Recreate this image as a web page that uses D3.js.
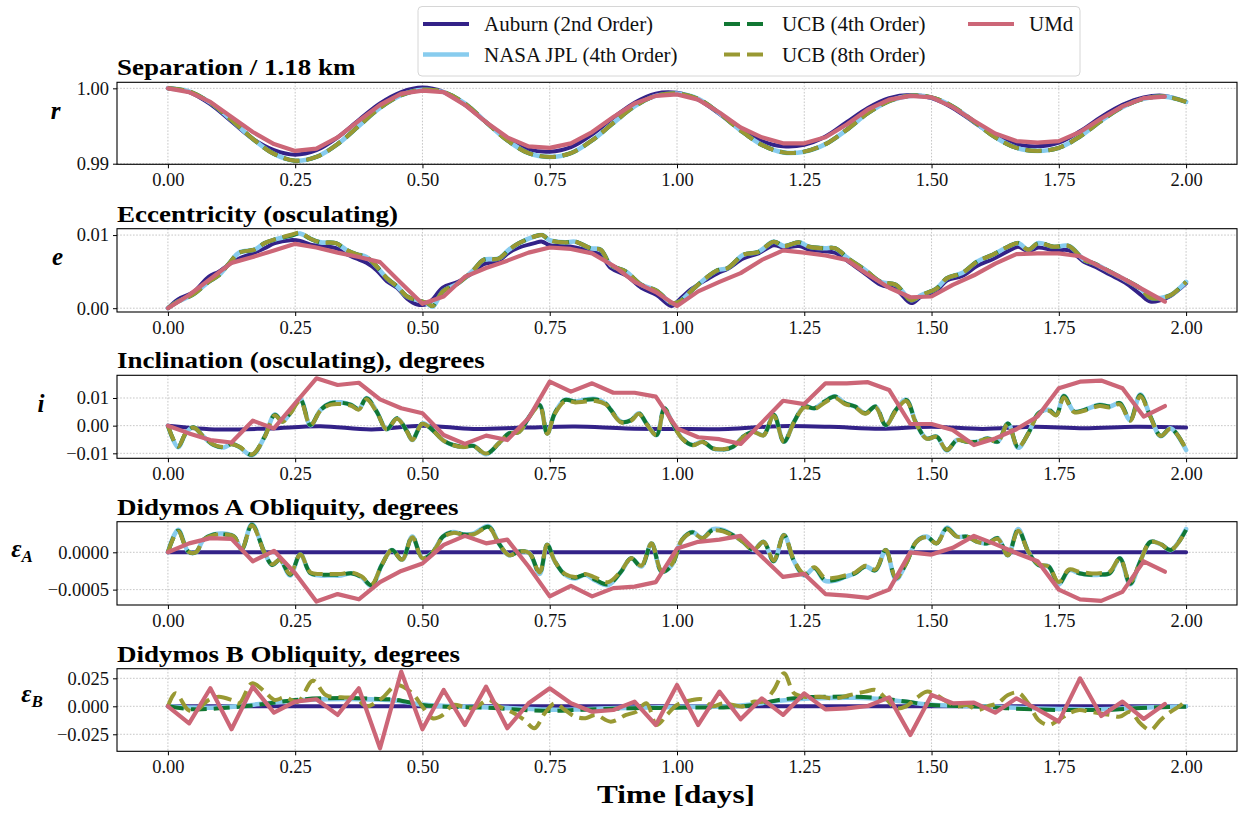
<!DOCTYPE html>
<html>
<head>
<meta charset="utf-8">
<script src="https://cdn.jsdelivr.net/npm/d3@7"></script>
<style>
  html, body { margin: 0; padding: 0; background: #ffffff; }
  svg text { font-family: "Liberation Serif", "Times New Roman", serif; }
</style>
</head>
<body>
<svg id="chart" width="1240" height="814"></svg>
<script>
// ---------------------------------------------------------------------------
// Data: time in days. UMd is sampled hourly (hour index), the others finer.
// ---------------------------------------------------------------------------
const xTickValues = [0, 0.25, 0.5, 0.75, 1.0, 1.25, 1.5, 1.75, 2.0];

// hourly sample index used by the separation curves (0..48 h) and UMd (0..47 h)
const hours49 = [0,1,2,3,4,5,6,7,8,9,10,11,12,13,14,15,16,17,18,19,20,21,22,23,24,
  25,26,27,28,29,30,31,32,33,34,35,36,37,38,39,40,41,42,43,44,45,46,47,48];
const umdHours = [0,1,2,3,4,5,6,7,8,9,10,11,12,13,14,15,16,17,18,19,20,21,22,23,
  24,25,26,27,28,29,30,31,32,33,34,35,36,37,38,39,40,41,42,43,44,45,46,47];

// --- Separation r (normalised by 1.18 km) ---
const sepAuburn = [1.0000,0.9995,0.9979,0.9956,0.9933,0.9918,0.9912,0.9918,0.9935,0.9958,
  0.9980,0.9995,1.0001,0.9995,0.9978,0.9955,0.9933,0.9919,0.9916,0.9922,
  0.9939,0.9961,0.9981,0.9993,0.9994,0.9985,0.9966,0.9945,0.9930,0.9923,
  0.9925,0.9936,0.9955,0.9974,0.9987,0.9991,0.9987,0.9974,0.9955,0.9937,
  0.9926,0.9923,0.9928,0.9943,0.9962,0.9978,0.9988,0.9990,0.9982];
const sepJPL = [1.0000,0.9996,0.9981,0.9958,0.9933,0.9913,0.9904,0.9909,0.9926,0.9950,
  0.9974,0.9991,0.9998,0.9995,0.9980,0.9955,0.9931,0.9914,0.9909,0.9914,
  0.9931,0.9954,0.9976,0.9990,0.9993,0.9986,0.9967,0.9944,0.9925,0.9915,
  0.9916,0.9926,0.9945,0.9967,0.9983,0.9990,0.9988,0.9976,0.9956,0.9935,
  0.9921,0.9917,0.9921,0.9936,0.9957,0.9975,0.9986,0.9989,0.9982];
const sepUCB4 = [1.0000,0.9996,0.9981,0.9958,0.9933,0.9913,0.9904,0.9909,0.9926,0.9950,
  0.9974,0.9991,0.9998,0.9995,0.9980,0.9955,0.9931,0.9914,0.9909,0.9914,
  0.9931,0.9954,0.9976,0.9990,0.9993,0.9986,0.9967,0.9944,0.9925,0.9915,
  0.9916,0.9926,0.9945,0.9967,0.9983,0.9990,0.9988,0.9976,0.9956,0.9935,
  0.9921,0.9917,0.9921,0.9936,0.9957,0.9975,0.9986,0.9989,0.9982];
const sepUCB8 = [1.0000,0.9996,0.9981,0.9958,0.9933,0.9913,0.9904,0.9909,0.9926,0.9950,
  0.9974,0.9991,0.9998,0.9995,0.9980,0.9955,0.9931,0.9914,0.9909,0.9914,
  0.9931,0.9954,0.9976,0.9990,0.9993,0.9986,0.9967,0.9944,0.9925,0.9915,
  0.9916,0.9926,0.9945,0.9967,0.9983,0.9990,0.9988,0.9976,0.9956,0.9935,
  0.9921,0.9917,0.9921,0.9936,0.9957,0.9975,0.9986,0.9989,0.9982];
const sepUMd = [1.0000,0.9995,0.9982,0.9962,0.9942,0.9926,0.9917,0.9920,0.9935,0.9957,
  0.9978,0.9993,0.9997,0.9995,0.9978,0.9955,0.9935,0.9923,0.9921,0.9927,
  0.9942,0.9962,0.9980,0.9990,0.9992,0.9985,0.9968,0.9948,0.9935,0.9927,
  0.9927,0.9935,0.9952,0.9972,0.9985,0.9990,0.9988,0.9975,0.9957,0.9940,
  0.9930,0.9928,0.9930,0.9942,0.9960,0.9976,0.9987,0.9989];

// --- Eccentricity e (osculating) ---
const eccTimes = [0,0.02,0.05,0.08,0.10,0.12,0.14,0.17,0.19,0.21,
  0.24,0.26,0.28,0.30,0.33,0.35,0.37,0.39,0.41,0.43,
  0.45,0.47,0.49,0.51,0.52,0.54,0.57,0.60,0.62,0.65,
  0.67,0.69,0.72,0.735,0.75,0.78,0.80,0.83,0.85,0.87,
  0.90,0.93,0.96,0.99,1.005,1.03,1.06,1.08,1.10,1.13,
  1.16,1.19,1.21,1.24,1.26,1.29,1.31,1.34,1.37,1.40,
  1.43,1.46,1.48,1.51,1.53,1.56,1.59,1.62,1.65,1.67,
  1.69,1.71,1.74,1.77,1.80,1.82,1.85,1.88,1.91,1.93,
  1.95,1.97,2.00];
const eccAuburn = [0,0.0012,0.0022,0.0043,0.0050,0.0060,0.0068,0.0076,0.0082,0.0089,
  0.0093,0.0092,0.0087,0.0085,0.0082,0.0074,0.0068,0.0062,0.0052,0.0037,
  0.0028,0.0013,0.0005,0.0006,0.0012,0.0028,0.0036,0.0049,0.0060,0.0065,
  0.0076,0.0083,0.0089,0.0091,0.0086,0.0085,0.0083,0.0078,0.0073,0.0055,
  0.0045,0.0028,0.0018,0.0003,0.0012,0.0027,0.0040,0.0048,0.0054,0.0068,
  0.0075,0.0086,0.0083,0.0085,0.0080,0.0078,0.0076,0.0062,0.0047,0.0032,
  0.0026,0.0007,0.0016,0.0024,0.0038,0.0044,0.0058,0.0067,0.0078,0.0084,
  0.0078,0.0083,0.0079,0.0079,0.0063,0.0057,0.0046,0.0035,0.0019,0.0009,
  0.0011,0.0017,0.0034];
const eccJPL = [0,0.0009,0.0019,0.0036,0.0045,0.0061,0.0076,0.0080,0.0089,0.0094,
  0.0099,0.0102,0.0095,0.0090,0.0089,0.0080,0.0074,0.0070,0.0057,0.0041,
  0.0030,0.0016,0.0011,0.0006,0.0002,0.0023,0.0034,0.0052,0.0066,0.0068,
  0.0080,0.0089,0.0098,0.0100,0.0093,0.0090,0.0091,0.0082,0.0080,0.0059,
  0.0050,0.0032,0.0024,0.0007,0.0009,0.0025,0.0043,0.0052,0.0055,0.0073,
  0.0077,0.0091,0.0085,0.0090,0.0084,0.0082,0.0082,0.0066,0.0052,0.0036,
  0.0032,0.0011,0.0018,0.0027,0.0041,0.0048,0.0064,0.0073,0.0084,0.0089,
  0.0080,0.0089,0.0084,0.0085,0.0066,0.0061,0.0050,0.0039,0.0027,0.0014,
  0.0014,0.0018,0.0036];
const eccUCB4 = [0,0.0009,0.0019,0.0036,0.0045,0.0061,0.0076,0.0080,0.0089,0.0094,
  0.0099,0.0102,0.0095,0.0090,0.0089,0.0080,0.0074,0.0070,0.0057,0.0041,
  0.0030,0.0016,0.0011,0.0007,0.0003,0.0023,0.0034,0.0052,0.0066,0.0068,
  0.0080,0.0089,0.0098,0.0100,0.0093,0.0090,0.0091,0.0082,0.0080,0.0059,
  0.0050,0.0032,0.0024,0.0007,0.0009,0.0025,0.0043,0.0052,0.0055,0.0073,
  0.0077,0.0091,0.0085,0.0090,0.0084,0.0082,0.0082,0.0066,0.0052,0.0036,
  0.0032,0.0011,0.0018,0.0027,0.0041,0.0048,0.0064,0.0073,0.0084,0.0089,
  0.0080,0.0089,0.0084,0.0085,0.0066,0.0061,0.0050,0.0039,0.0027,0.0014,
  0.0014,0.0018,0.0036];
const eccUCB8 = [0,0.0009,0.0019,0.0036,0.0045,0.0061,0.0076,0.0080,0.0089,0.0094,
  0.0100,0.0103,0.0095,0.0090,0.0089,0.0080,0.0074,0.0070,0.0057,0.0041,
  0.0030,0.0016,0.0011,0.0007,0.0003,0.0023,0.0034,0.0052,0.0066,0.0068,
  0.0080,0.0089,0.0098,0.0100,0.0093,0.0090,0.0091,0.0082,0.0080,0.0059,
  0.0050,0.0032,0.0024,0.0007,0.0009,0.0025,0.0043,0.0052,0.0055,0.0073,
  0.0077,0.0091,0.0085,0.0090,0.0084,0.0082,0.0082,0.0066,0.0052,0.0036,
  0.0032,0.0011,0.0018,0.0027,0.0041,0.0048,0.0064,0.0073,0.0084,0.0089,
  0.0080,0.0089,0.0084,0.0085,0.0066,0.0061,0.0050,0.0039,0.0027,0.0014,
  0.0014,0.0018,0.0036];
const eccUMd = [0,0.0018,0.0040,0.0062,0.0070,0.0079,0.0088,0.0083,0.0076,0.0070,
  0.0063,0.0034,0.0006,0.0016,0.0043,0.0055,0.0065,0.0076,0.0083,0.0081,
  0.0075,0.0058,0.0036,0.0022,0.0003,0.0023,0.0036,0.0048,0.0066,0.0079,
  0.0076,0.0072,0.0066,0.0046,0.0028,0.0015,0.0016,0.0032,0.0045,0.0061,
  0.0074,0.0075,0.0075,0.0071,0.0056,0.0041,0.0025,0.0009];

// --- Inclination i (osculating), degrees ---
const incAuburnTimes = [0,0.1,0.2,0.3,0.4,0.5,0.6,0.7,0.8,0.9,1.0,
  1.1,1.2,1.3,1.4,1.5,1.6,1.7,1.8,1.9,2.0];
const incAuburn = [0,-0.0014,-0.0010,-0.0002,-0.0014,0,-0.0012,-0.0007,-0.0003,-0.0010,-0.0012,
  -0.0012,-0.0002,-0.0004,-0.0011,-0.0004,-0.0012,-0.0004,-0.0009,-0.0004,-0.0007];
const incTimes = [0,0.02,0.035,0.05,0.07,0.09,0.11,0.125,0.14,0.165,
  0.19,0.21,0.225,0.24,0.26,0.28,0.30,0.32,0.34,0.36,
  0.375,0.39,0.41,0.43,0.45,0.47,0.48,0.50,0.52,0.54,
  0.56,0.58,0.60,0.625,0.65,0.67,0.69,0.71,0.73,0.745,
  0.76,0.78,0.80,0.82,0.84,0.86,0.87,0.89,0.91,0.925,
  0.94,0.96,0.975,0.99,1.01,1.03,1.05,1.07,1.09,1.11,
  1.13,1.15,1.17,1.19,1.21,1.23,1.25,1.27,1.29,1.31,
  1.33,1.35,1.37,1.39,1.41,1.43,1.45,1.47,1.49,1.51,
  1.53,1.55,1.57,1.59,1.61,1.63,1.65,1.67,1.69,1.71,
  1.73,1.745,1.76,1.78,1.80,1.83,1.85,1.87,1.89,1.91,
  1.93,1.95,1.97,2.00];
const incJPL = [0,-0.0078,-0.0028,-0.0006,-0.0040,-0.0070,-0.0079,-0.0066,-0.0077,-0.0107,
  -0.0040,0.0040,0.0015,0.0045,0.0096,0.0002,0.0057,0.0082,0.0084,0.0075,
  0.0060,0.0100,0.0051,-0.0013,0.0027,-0.0022,-0.0052,0.0008,-0.0016,-0.0052,
  -0.0070,-0.0077,-0.0073,-0.0103,-0.0064,-0.0028,-0.0022,0.0033,0.0075,-0.0028,
  0.0045,0.0094,0.0087,0.0094,0.0096,0.0080,0.0057,0.0014,0.0020,0.0045,
  0.0008,-0.0034,0.0063,0.0014,-0.0046,-0.0070,-0.0058,-0.0082,-0.0087,-0.0076,
  -0.0040,-0.0022,-0.0034,0.0039,-0.0058,0.0014,0.0069,0.0063,0.0087,0.0106,
  0.0081,0.0069,0.0045,0.0069,0.0002,0.0057,0.0094,0.0008,-0.0046,-0.0040,
  -0.0090,-0.0052,-0.0058,-0.0058,-0.0046,-0.0058,0.0008,-0.0080,-0.0028,0.0045,
  0.0057,0.0039,0.0108,0.0051,0.0057,0.0075,0.0069,0.0081,0.0020,0.0112,
  0.0033,-0.0038,-0.0010,-0.0088];
const incUCB4 = [0,-0.0076,-0.0028,-0.0006,-0.0040,-0.0070,-0.0078,-0.0066,-0.0076,-0.0105,
  -0.0040,0.0039,0.0015,0.0045,0.0095,0.0002,0.0057,0.0081,0.0083,0.0075,
  0.0060,0.0099,0.0051,-0.0013,0.0027,-0.0022,-0.0052,0.0008,-0.0016,-0.0052,
  -0.0070,-0.0076,-0.0073,-0.0102,-0.0064,-0.0028,-0.0022,0.0033,0.0075,-0.0028,
  0.0045,0.0093,0.0087,0.0093,0.0095,0.0080,0.0057,0.0014,0.0020,0.0045,
  0.0008,-0.0034,0.0063,0.0014,-0.0046,-0.0070,-0.0058,-0.0082,-0.0086,-0.0076,
  -0.0040,-0.0022,-0.0034,0.0039,-0.0058,0.0014,0.0069,0.0063,0.0087,0.0105,
  0.0081,0.0069,0.0045,0.0069,0.0002,0.0057,0.0093,0.0008,-0.0046,-0.0040,
  -0.0088,-0.0052,-0.0058,-0.0058,-0.0046,-0.0058,0.0008,-0.0078,-0.0028,0.0045,
  0.0057,0.0039,0.0107,0.0051,0.0057,0.0075,0.0069,0.0081,0.0020,0.0111,
  0.0033,-0.0037,-0.0010,-0.0086];
const incUCB8 = [0,-0.0075,-0.0028,-0.0007,-0.0040,-0.0069,-0.0077,-0.0067,-0.0076,-0.0104,
  -0.0041,0.0037,0.0014,0.0043,0.0089,0.0001,0.0055,0.0076,0.0078,0.0072,
  0.0058,0.0095,0.0049,-0.0014,0.0025,-0.0023,-0.0052,0.0007,-0.0017,-0.0052,
  -0.0070,-0.0077,-0.0074,-0.0101,-0.0064,-0.0029,-0.0023,0.0031,0.0072,-0.0029,
  0.0043,0.0088,0.0084,0.0087,0.0089,0.0077,0.0055,0.0012,0.0018,0.0043,
  0.0006,-0.0035,0.0060,0.0012,-0.0047,-0.0071,-0.0059,-0.0082,-0.0085,-0.0076,
  -0.0041,-0.0023,-0.0035,0.0036,-0.0059,0.0012,0.0066,0.0060,0.0083,0.0100,
  0.0078,0.0066,0.0043,0.0066,0.0001,0.0054,0.0089,0.0007,-0.0047,-0.0041,
  -0.0087,-0.0053,-0.0058,-0.0058,-0.0047,-0.0058,0.0006,-0.0077,-0.0029,0.0042,
  0.0054,0.0037,0.0102,0.0049,0.0054,0.0071,0.0066,0.0077,0.0018,0.0106,
  0.0031,-0.0037,-0.0011,-0.0085];
const incUMd = [0,-0.0028,-0.0052,-0.0061,0.0018,-0.0010,0.0081,0.0171,0.0147,0.0155,
  0.0095,0.0063,0.0045,-0.0034,-0.0066,-0.0036,-0.0052,0.0027,0.0159,0.0123,
  0.0153,0.0119,0.0119,0.0105,-0.0010,-0.0042,-0.0049,-0.0066,0.0011,0.0090,
  0.0078,0.0153,0.0153,0.0157,0.0129,0.0006,0.0006,-0.0016,-0.0070,-0.0046,
  -0.0013,0.0033,0.0135,0.0159,0.0163,0.0135,0.0033,0.0071];

// --- Didymos A obliquity eps_A, degrees ---
const oblAAuburnTimes = [0,0.25,0.5,0.75,1.0,1.25,1.5,1.75,2.0];
const oblAAuburn = [0,0,0,0,0,0,0,0,0];
const oblATimes = [0,0.02,0.04,0.055,0.07,0.09,0.11,0.13,0.145,0.165,
  0.19,0.205,0.22,0.24,0.26,0.28,0.30,0.32,0.34,0.36,
  0.38,0.40,0.42,0.44,0.46,0.48,0.50,0.52,0.54,0.56,
  0.58,0.60,0.63,0.65,0.67,0.69,0.71,0.73,0.745,0.76,
  0.78,0.80,0.82,0.84,0.865,0.89,0.91,0.93,0.95,0.97,
  0.99,1.01,1.03,1.05,1.07,1.09,1.11,1.13,1.15,1.17,
  1.19,1.21,1.23,1.25,1.27,1.29,1.31,1.33,1.35,1.37,
  1.39,1.41,1.43,1.45,1.47,1.49,1.51,1.53,1.55,1.57,
  1.59,1.61,1.63,1.65,1.67,1.69,1.71,1.73,1.75,1.77,
  1.79,1.81,1.83,1.85,1.87,1.89,1.91,1.93,1.95,1.97,
  2.00];
const oblAJPL = [0,0.00030,0.00001,0,0.00017,0.00024,0.00025,0.00021,0.00004,0.00038,
  -0.00001,-0.00017,-0.00010,-0.00031,-0.00003,-0.00028,-0.00031,-0.00031,-0.00031,-0.00028,
  -0.00033,-0.00045,-0.00017,0.00003,-0.00010,0.00021,-0.00008,0,0.00021,0.00027,
  0.00024,0.00025,0.00035,0.00012,-0.00004,0.00001,-0.00001,-0.00029,0.00010,-0.00012,
  -0.00030,-0.00035,-0.00030,-0.00038,-0.00044,-0.00026,-0.00008,-0.00019,0.00012,-0.00026,
  -0.00017,0.00017,0.00027,0.00019,0.00031,0.00030,0.00023,0.00014,0.00003,0.00014,
  -0.00012,0.00023,-0.00012,-0.00031,-0.00021,-0.00038,-0.00038,-0.00033,-0.00028,-0.00019,
  -0.00024,0.00003,-0.00036,-0.00015,0.00014,0.00021,0.00012,0.00033,0.00021,0.00021,
  0.00014,0.00012,0.00019,-0.00004,0.00031,0.00001,-0.00017,-0.00019,-0.00043,-0.00024,
  -0.00028,-0.00030,-0.00030,-0.00028,-0.00008,-0.00043,-0.00012,0.00014,0.00011,0.00003,
  0.00031];
const oblAUCB4 = [0,0.00029,0.00001,0,0.00017,0.00024,0.00024,0.00021,0.00004,0.00037,
  -0.00001,-0.00017,-0.00010,-0.00030,-0.00003,-0.00028,-0.00030,-0.00030,-0.00030,-0.00028,
  -0.00033,-0.00044,-0.00017,0.00003,-0.00010,0.00021,-0.00008,0,0.00021,0.00027,
  0.00024,0.00024,0.00034,0.00012,-0.00004,0.00001,-0.00001,-0.00028,0.00010,-0.00012,
  -0.00030,-0.00034,-0.00030,-0.00037,-0.00043,-0.00026,-0.00008,-0.00019,0.00012,-0.00026,
  -0.00017,0.00017,0.00027,0.00019,0.00030,0.00029,0.00023,0.00014,0.00003,0.00014,
  -0.00012,0.00023,-0.00012,-0.00030,-0.00021,-0.00037,-0.00037,-0.00033,-0.00028,-0.00019,
  -0.00024,0.00003,-0.00035,-0.00015,0.00014,0.00021,0.00012,0.00032,0.00021,0.00021,
  0.00014,0.00012,0.00019,-0.00004,0.00030,0.00001,-0.00017,-0.00019,-0.00042,-0.00024,
  -0.00028,-0.00030,-0.00030,-0.00028,-0.00008,-0.00042,-0.00012,0.00014,0.00011,0.00003,
  0.00030];
const oblAUCB8 = [0,0.00028,0.00001,0,0.00017,0.00023,0.00024,0.00021,0.00005,0.00036,
  -0.00001,-0.00016,-0.00010,-0.00029,-0.00003,-0.00027,-0.00029,-0.00029,-0.00029,-0.00027,
  -0.00032,-0.00043,-0.00017,0.00003,-0.00010,0.00020,-0.00008,0,0.00020,0.00026,
  0.00024,0.00024,0.00033,0.00012,-0.00004,0.00001,-0.00001,-0.00027,0.00010,-0.00012,
  -0.00029,-0.00033,-0.00029,-0.00034,-0.00040,-0.00025,-0.00008,-0.00018,0.00012,-0.00025,
  -0.00016,0.00017,0.00026,0.00019,0.00029,0.00028,0.00022,0.00014,0.00003,0.00014,
  -0.00011,0.00023,-0.00011,-0.00029,-0.00020,-0.00034,-0.00034,-0.00031,-0.00027,-0.00018,
  -0.00023,0.00003,-0.00034,-0.00015,0.00014,0.00020,0.00012,0.00031,0.00021,0.00021,
  0.00014,0.00012,0.00018,-0.00004,0.00029,0.00001,-0.00016,-0.00019,-0.00040,-0.00023,
  -0.00026,-0.00028,-0.00028,-0.00026,-0.00008,-0.00040,-0.00012,0.00014,0.00011,0.00003,
  0.00029];
const oblAUMd = [0,0.00012,0.00019,0.00018,-0.00012,0.00002,-0.00028,-0.00066,-0.00056,-0.00063,
  -0.00040,-0.00025,-0.00015,0.00010,0.00022,0.00012,0.00017,-0.00019,-0.00059,-0.00045,
  -0.00059,-0.00048,-0.00046,-0.00040,0.00005,0.00014,0.00017,0.00022,-0.00006,-0.00033,
  -0.00029,-0.00056,-0.00058,-0.00061,-0.00050,0,-0.00003,0.00006,0.00022,0.00011,
  -0.00001,-0.00012,-0.00050,-0.00063,-0.00065,-0.00053,-0.00012,-0.00026];

// --- Didymos B obliquity eps_B, degrees ---
const oblBAuburnTimes = [0,0.25,0.5,0.75,1.0,1.25,1.5,1.75,2.0];
const oblBAuburn = [0,0,0,0,0,0,0,0,0];
const oblBTimes = [0,0.05,0.1,0.15,0.2,0.25,0.3,0.35,0.4,0.45,
  0.5,0.55,0.6,0.65,0.7,0.75,0.8,0.85,0.9,0.95,
  1.0,1.05,1.1,1.15,1.2,1.25,1.3,1.35,1.4,1.45,
  1.5,1.55,1.6,1.65,1.7,1.75,1.8,1.85,1.9,1.95,
  2.0];
const oblBJPL = [0,-0.0012,-0.0010,0.0006,0.0030,0.0052,0.0062,0.0066,0.0062,0.0050,
  0.0015,0.0002,-0.0005,-0.0012,-0.0022,-0.0030,-0.0028,-0.0020,-0.0014,-0.0010,
  -0.0006,-0.0004,0,0.0018,0.0050,0.0068,0.0075,0.0076,0.0065,0.0040,
  0.0014,0.0006,0,-0.0010,-0.0018,-0.0024,-0.0026,-0.0024,-0.0014,-0.0006,
  0];
const oblBUCB4 = [0,-0.0027,-0.0018,0,0.0027,0.0057,0.0071,0.0074,0.0068,0.0057,
  0.0012,-0.0003,-0.0009,-0.0018,-0.0033,-0.0042,-0.0033,-0.0024,-0.0018,-0.0015,
  -0.0012,-0.0010,-0.0009,0.0012,0.0057,0.0080,0.0086,0.0086,0.0071,0.0042,
  0.0012,0.0003,-0.0003,-0.0018,-0.0027,-0.0033,-0.0033,-0.0033,-0.0018,-0.0009,
  -0.0003];
const oblBUCB8 = [[0,0],[0.015,0.0116],[0.04,-0.0033],[0.055,-0.0039],[0.08,0.0057],[0.1,0.0086],
  [0.125,0.0057],[0.14,0.0027],[0.165,0.0205],[0.19,0.0131],[0.21,0.0057],[0.23,0.0080],
  [0.255,0.0040],[0.285,0.0229],[0.31,0.0101],[0.34,0.0080],[0.37,0.0071],[0.39,0],
  [0.42,0.0071],[0.45,0.0190],[0.48,0.0116],[0.50,-0.0003],[0.52,-0.0107],[0.54,-0.0077],
  [0.56,0.0012],[0.58,-0.0003],[0.60,-0.0018],[0.63,0.0057],[0.65,0],[0.68,-0.0063],
  [0.70,-0.0122],[0.72,-0.0196],[0.74,-0.0063],[0.76,0.0027],[0.78,-0.0033],[0.80,-0.0092],
  [0.82,-0.0107],[0.84,-0.0077],[0.87,-0.0137],[0.90,-0.0077],[0.92,-0.0048],[0.94,0.0027],
  [0.96,-0.0167],[0.98,-0.0077],[1.0,0.0012],[1.03,0.0057],[1.05,0.0063],[1.07,0],
  [1.09,0.0027],[1.11,0.0012],[1.13,0],[1.15,0.0042],[1.17,0.0042],[1.19,0.0146],
  [1.21,0.0295],[1.23,0.0116],[1.25,0.0086],[1.28,0.0086],[1.31,0.0071],[1.34,0.0101],
  [1.37,0.0131],[1.39,0.0146],[1.41,0.0071],[1.43,-0.0018],[1.45,0],[1.47,0.0071],
  [1.49,0.0131],[1.51,0.0101],[1.53,0.0042],[1.55,0],[1.57,0.0012],[1.59,-0.0033],
  [1.61,0],[1.63,0.0027],[1.65,0.0101],[1.67,0.0122],[1.69,0.0027],[1.71,-0.0122],
  [1.73,-0.0167],[1.75,-0.0122],[1.77,-0.0063],[1.79,-0.0033],[1.81,-0.0048],[1.83,-0.0063],
  [1.85,-0.0077],[1.87,-0.0092],[1.89,-0.0048],[1.91,-0.0152],[1.93,-0.0211],[1.95,-0.0122],
  [1.97,-0.0048],[1.99,0.0012],[2.0,0.0057]];
const oblBUMd = [0,-0.0152,0.0161,-0.0205,0.0176,-0.0057,0.0042,0.0063,-0.0077,0.0161,
  -0.0375,0.0310,-0.0205,0.0146,-0.0167,0.0176,-0.0196,0.0027,0.0161,0.0027,
  -0.0048,-0.0033,0.0042,-0.0167,0.0190,-0.0167,0.0131,-0.0116,0.0071,-0.0077,
  0.0116,-0.0027,-0.0018,0.0003,0.0080,-0.0256,0.0101,0.0027,0.0033,-0.0057,
  0.0071,-0.0027,-0.0137,0.0250,-0.0086,0.0042,-0.0113,0.0021];

// ---------------------------------------------------------------------------
// Styling
// ---------------------------------------------------------------------------
const seriesStyle = {
  auburn: { name: "Auburn (2nd Order)",   color: "#332288", width: 4,   dash: null,   smooth: true },
  jpl:    { name: "NASA JPL (4th Order)", color: "#88CCEE", width: 4.6, dash: null,   smooth: true },
  ucb4:   { name: "UCB (4th Order)",      color: "#117733", width: 4,   dash: "16,7", smooth: true },
  ucb8:   { name: "UCB (8th Order)",      color: "#999933", width: 4,   dash: "16,7", smooth: true },
  umd:    { name: "UMd",                  color: "#CC6677", width: 4.2, dash: null,   smooth: false }
};
const drawOrder = ["auburn", "jpl", "ucb4", "ucb8", "umd"];

const BOLD_STRETCH = 1.2;   // widen bold serif text horizontally
const TICK_FONT = 18.5;

const zip = (ts, vs) => ts.map((t, i) => [t, vs[i]]);
const byHour = (hs, vs) => hs.map((h, i) => [h / 24, vs[i]]);

const panels = [
  { title: "Separation / 1.18 km", top: 82.3, bottom: 164.3,
    domain: [0.98992, 1.0008], yTicks: [0.99, 1.00], fmt: ".2f",
    label: "r", sub: null, labelX: 55.5, labelY: 119,
    data: {
      auburn: byHour(hours49, sepAuburn), jpl: byHour(hours49, sepJPL),
      ucb4: byHour(hours49, sepUCB4), ucb8: byHour(hours49, sepUCB8),
      umd: byHour(umdHours, sepUMd) } },
  { title: "Eccentricity (osculating)", top: 228.7, bottom: 312,
    domain: [-0.00052, 0.01087], yTicks: [0.00, 0.01], fmt: ".2f",
    label: "e", sub: null, labelX: 57.5, labelY: 265,
    data: {
      auburn: zip(eccTimes, eccAuburn), jpl: zip(eccTimes, eccJPL),
      ucb4: zip(eccTimes, eccUCB4), ucb8: zip(eccTimes, eccUCB8),
      umd: byHour(umdHours, eccUMd) } },
  { title: "Inclination (osculating), degrees", top: 375.3, bottom: 458.3,
    domain: [-0.0118, 0.0182], yTicks: [-0.01, 0.00, 0.01], fmt: ".2f",
    label: "i", sub: null, labelX: 41, labelY: 412,
    data: {
      auburn: zip(incAuburnTimes, incAuburn), jpl: zip(incTimes, incJPL),
      ucb4: zip(incTimes, incUCB4), ucb8: zip(incTimes, incUCB8),
      umd: byHour(umdHours, incUMd) } },
  { title: "Didymos A Obliquity, degrees", top: 521.7, bottom: 605,
    domain: [-0.000706, 0.00041], yTicks: [-0.0005, 0.0000], fmt: ".4f",
    label: "\u03b5", sub: "A", labelX: 22, labelY: 557,
    data: {
      auburn: zip(oblAAuburnTimes, oblAAuburn), jpl: zip(oblATimes, oblAJPL),
      ucb4: zip(oblATimes, oblAUCB4), ucb8: zip(oblATimes, oblAUCB8),
      umd: byHour(umdHours, oblAUMd) } },
  { title: "Didymos B Obliquity, degrees", top: 668.7, bottom: 751.3,
    domain: [-0.0402, 0.0336], yTicks: [-0.025, 0.000, 0.025], fmt: ".3f",
    label: "\u03b5", sub: "B", labelX: 32, labelY: 702,
    data: {
      auburn: zip(oblBAuburnTimes, oblBAuburn), jpl: zip(oblBTimes, oblBJPL),
      ucb4: zip(oblBTimes, oblBUCB4), ucb8: oblBUCB8,
      umd: byHour(umdHours, oblBUMd) } }
];

// ---------------------------------------------------------------------------
// Drawing
// ---------------------------------------------------------------------------
const svg = d3.select("#chart");
svg.append("rect").attr("width", 1240).attr("height", 814).attr("fill", "#ffffff");

const x = d3.scaleLinear().domain([-0.1, 2.1]).range([117, 1237]);
const xFmt = d3.format(".2f");

panels.forEach((p, idx) => {
  const y = d3.scaleLinear().domain(p.domain).range([p.bottom, p.top]);
  const g = svg.append("g").attr("class", "panel");

  // grid
  const grid = g.append("g").attr("class", "grid");
  grid.selectAll("line.vx").data(xTickValues).join("line")
    .attr("x1", d => x(d)).attr("x2", d => x(d))
    .attr("y1", p.top).attr("y2", p.bottom);
  grid.selectAll("line.hy").data(p.yTicks).join("line")
    .attr("x1", x.range()[0]).attr("x2", x.range()[1])
    .attr("y1", d => y(d)).attr("y2", d => y(d));
  grid.selectAll("line")
    .attr("stroke", "#b8b8b8").attr("stroke-width", 0.8)
    .attr("stroke-dasharray", "1.6,1.6");

  // clip to the axes box
  const clipId = "clip" + idx;
  svg.append("clipPath").attr("id", clipId).append("rect")
    .attr("x", x.range()[0]).attr("y", p.top)
    .attr("width", x.range()[1] - x.range()[0]).attr("height", p.bottom - p.top);

  const lines = g.append("g").attr("clip-path", `url(#${clipId})`);
  drawOrder.forEach(key => {
    const st = seriesStyle[key];
    const gen = d3.line()
      .x(d => x(d[0])).y(d => y(d[1]))
      .curve(st.smooth ? d3.curveCatmullRom.alpha(0.5) : d3.curveLinear);
    lines.append("path")
      .datum(p.data[key])
      .attr("d", gen)
      .attr("fill", "none")
      .attr("stroke", st.color)
      .attr("stroke-width", st.width)
      .attr("stroke-linejoin", "round")
      .attr("stroke-linecap", st.dash ? "butt" : "round")
      .attr("stroke-dasharray", st.dash);
  });

  // frame
  g.append("rect")
    .attr("x", x.range()[0]).attr("y", p.top)
    .attr("width", x.range()[1] - x.range()[0]).attr("height", p.bottom - p.top)
    .attr("fill", "none").attr("stroke", "#000").attr("stroke-width", 1.1);

  // axes
  const yAxis = d3.axisLeft(y).tickValues(p.yTicks)
    .tickFormat(d3.format(p.fmt)).tickSize(4).tickPadding(4);
  const ya = g.append("g").attr("transform", `translate(${x.range()[0]},0)`).call(yAxis);
  const xAxis = d3.axisBottom(x).tickValues(xTickValues)
    .tickFormat(xFmt).tickSize(4).tickPadding(5);
  const xa = g.append("g").attr("transform", `translate(0,${p.bottom})`).call(xAxis);
  [ya, xa].forEach(a => {
    a.select(".domain").remove();
    a.selectAll(".tick line").attr("stroke", "#000").attr("stroke-width", 1);
    a.selectAll(".tick text")
      .attr("fill", "#111")
      .style("font-family", '"Liberation Serif", serif')
      .style("font-size", TICK_FONT + "px");
  });

  // title (bold)
  g.append("text")
    .attr("transform", `translate(${x.range()[0]},${p.top - 7}) scale(${BOLD_STRETCH},1)`)
    .attr("font-weight", "bold").attr("font-size", 22.5).attr("fill", "#000")
    .text(p.title);

  // y label (bold italic math symbol)
  const lab = g.append("text")
    .attr("x", p.labelX).attr("y", p.labelY)
    .attr("text-anchor", "middle")
    .attr("font-weight", "bold").attr("font-style", "italic")
    .attr("font-size", 25).attr("fill", "#000");
  lab.append("tspan").text(p.label);
  if (p.sub) {
    lab.append("tspan").attr("dy", 5).attr("font-size", 17).text(p.sub);
  }
});

// x-axis title
svg.append("text")
  .attr("transform", `translate(676,803) scale(${BOLD_STRETCH},1)`)
  .attr("text-anchor", "middle")
  .attr("font-weight", "bold").attr("font-size", 26).attr("fill", "#000")
  .text("Time [days]");

// legend
const legend = svg.append("g").attr("class", "legend");
legend.append("rect")
  .attr("x", 418).attr("y", 6.5).attr("width", 662).attr("height", 69.5)
  .attr("rx", 4).attr("fill", "#fff").attr("fill-opacity", 0.85)
  .attr("stroke", "#d6d6d6").attr("stroke-width", 1);
const legendCols = [{ hx: 423, tx: 484 }, { hx: 724, tx: 782 }, { hx: 968, tx: 1029 }];
const legendRows = [24, 54.5];
const legendItems = [
  { key: "auburn", col: 0, row: 0 }, { key: "jpl", col: 0, row: 1 },
  { key: "ucb4", col: 1, row: 0 }, { key: "ucb8", col: 1, row: 1 },
  { key: "umd", col: 2, row: 0 }
];
legendItems.forEach(it => {
  const st = seriesStyle[it.key];
  const c = legendCols[it.col], yy = legendRows[it.row];
  legend.append("line")
    .attr("x1", c.hx).attr("x2", c.hx + 46).attr("y1", yy).attr("y2", yy)
    .attr("stroke", st.color).attr("stroke-width", st.width)
    .attr("stroke-dasharray", st.dash);
  legend.append("text")
    .attr("x", c.tx).attr("y", yy + 7)
    .attr("font-size", 21).attr("fill", "#111")
    .text(st.name);
});
</script>
</body>
</html>
